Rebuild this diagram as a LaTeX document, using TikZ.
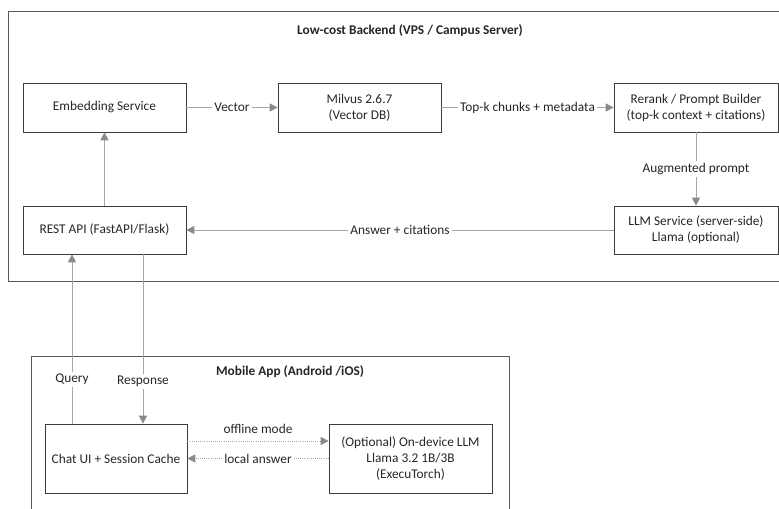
\documentclass[tikz,border=0pt]{standalone}
\usepackage{fontspec}
\setmainfont{Carlito}
\usetikzlibrary{arrows.meta}
\definecolor{framegray}{HTML}{5A5A5A}
\definecolor{boxgray}{HTML}{3C3C3C}
\definecolor{linegray}{HTML}{A6A6A6}
\definecolor{headgray}{HTML}{8A8A8A}
\definecolor{textgray}{HTML}{262626}

\begin{document}
\begin{tikzpicture}[x=0.75pt, y=-0.75pt, font=\fontsize{10}{12}\selectfont, text=textgray,
	block/.style={draw=boxgray, line width=0.5pt, align=center, minimum width=122.25pt, minimum height=36.75pt, inner sep=0pt},
	arr/.style={draw=linegray, line width=0.6pt, -{Triangle[length=6pt, width=6pt, color=headgray]}},
	dotarr/.style={arr, densely dotted},
	lbl/.style={fill=white, inner sep=1.5pt}]
\useasboundingbox (0,0) rectangle (779,508);
\clip (0,0) rectangle (779,508);

% frames
\draw[framegray, line width=0.6pt](8,11) rectangle (800,281);
\draw[framegray, line width=0.6pt](31,520) |- (509,356) -- (509,520);
\node (backendtitle) at (410,31) {\bfseries Low-cost Backend (VPS / Campus Server)};
\node (mobiletitle) at (290,372) {\bfseries Mobile App (Android /iOS)};

% backend blocks
\node[block] (emb) at (104.5,107.5) {Embedding Service};
\node[block] (milvus) at (359.5,107.5) {Milvus 2.6.7\\(Vector DB)};
\node[block, minimum width=123pt] (rerank) at (696,107.5) {Rerank / Prompt Builder\\(top-k context + citations)};
\node[block, minimum height=36pt] (rest) at (104.5,230) {REST API (FastAPI/Flask)};
\node[block, minimum width=123pt, minimum height=36pt] (llm) at (696,230) {LLM Service (server-side)\\Llama (optional)};

% mobile blocks
\node[block, minimum width=106.5pt, minimum height=51.75pt] (chat) at (116,458.5) {Chat UI + Session Cache};
\node[block, minimum height=51.75pt] (ondev) at (410.5,458.5) {(Optional) On-device LLM\\Llama 3.2 1B/3B\\(ExecuTorch)};

% helper coordinates
\coordinate (qx) at (72,0);
\coordinate (rx) at (143,0);
\coordinate (offy) at (0,441);

% backend flow
\draw[arr](emb.east) -- (milvus.west) node[midway, lbl]{Vector};
\draw[arr](milvus.east) -- (rerank.west) node[midway, lbl]{Top-k chunks + metadata};
\draw[arr](rerank.south) -- (llm.north) node[midway, lbl]{Augmented prompt};
\draw[arr](llm.west) -- (rest.east) node[midway, lbl]{Answer + citations};
\draw[arr](rest.north) -- (emb.south);

% app <-> backend
\draw[arr](chat.north -| qx) -- (rest.south -| qx) node[pos=0.26, lbl]{Query};
\draw[arr](rest.south -| rx) -- (chat.north -| rx) node[pos=0.75, lbl]{Response};

% on-device path
\draw[dotarr](chat.east |- offy) -- (ondev.west |- offy) node[midway, above=2pt]{offline mode};
\draw[dotarr](ondev.west) -- (chat.east) node[midway, lbl]{local answer};
\end{tikzpicture}
\end{document}
